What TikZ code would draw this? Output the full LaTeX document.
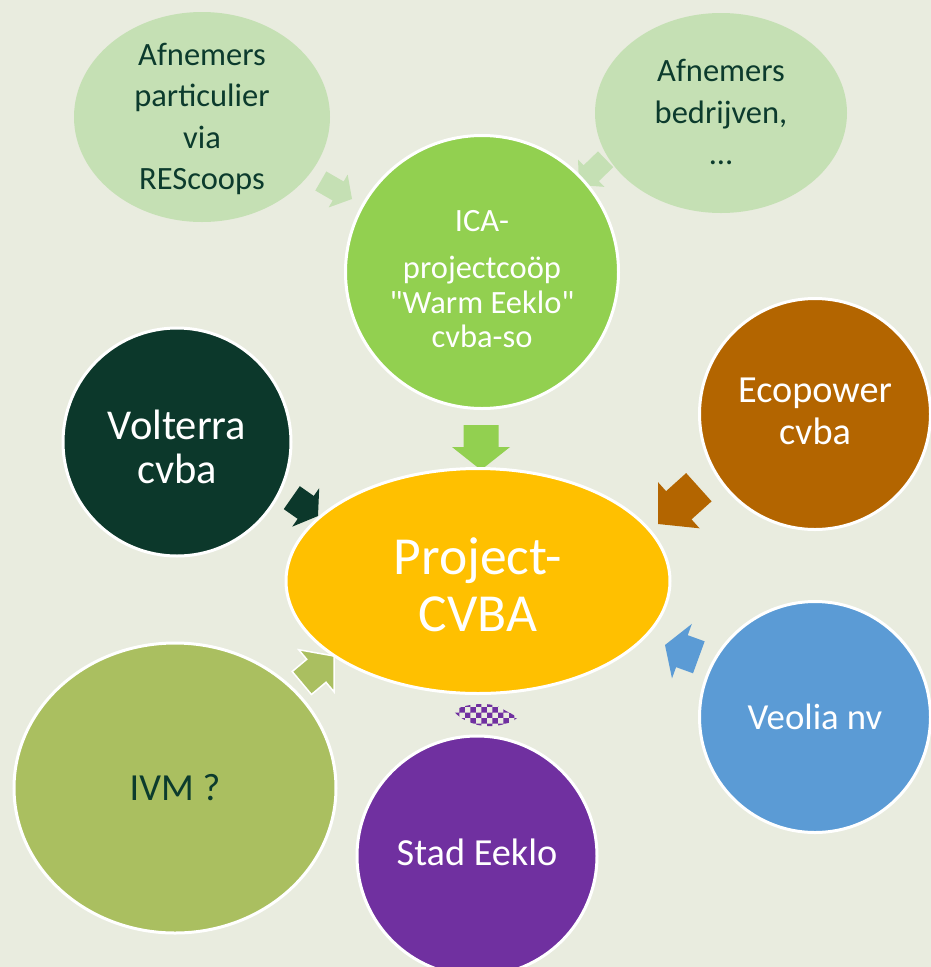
\documentclass[tikz,border=0pt]{standalone}
\usepackage{fontspec}
\setmainfont{Carlito}[Ligatures=TeXOff]
\usetikzlibrary{shapes.geometric,patterns}
\definecolor{bg}{HTML}{E9ECDF}
\definecolor{lightg}{HTML}{C5E0B4}
\definecolor{icag}{HTML}{92D050}
\definecolor{gold}{HTML}{FFC000}
\definecolor{volt}{HTML}{0C382B}
\definecolor{ecop}{HTML}{B36500}
\definecolor{veol}{HTML}{5B9BD5}
\definecolor{ivmg}{HTML}{AABF60}
\definecolor{stad}{HTML}{7030A0}
\definecolor{darktxt}{HTML}{0C3B2D}
% #1 style, #2 tip, #3 angle, #4 length, #5 head length, #6 head width, #7 shaft width
\newcommand\blockarr[7]{%
  \begin{scope}[shift={(#2)}, rotate=#3]
    \path[#1] (0,0) -- (-#5,#6/2) -- (-#5,#7/2) -- (-#4,#7/2) -- (-#4,-#7/2)
      -- (-#5,-#7/2) -- (-#5,-#6/2) -- cycle;
  \end{scope}}
\begin{document}
\begin{tikzpicture}[x=1pt,y=-1pt,
  bubble/.style={draw=white, line width=3pt, inner sep=0pt},
  lightbub/.style={ellipse, fill=lightg, inner sep=0pt},
  txt/.style={align=center, text=white, inner sep=0pt},
  ]
\useasboundingbox (0,0) rectangle (931,967);
\clip (0,0) rectangle (931,967);
\fill[bg] (0,0) rectangle (931,967);

% connector arrows
\coordinate (t1) at (352,199);
\coordinate (t2) at (579,185);
\coordinate (t3) at (481,470);
\coordinate (t4) at (318,516);
\coordinate (t5) at (658,524);
\coordinate (t6) at (665,645);
\coordinate (t7) at (334,656);
\blockarr{fill=lightg}{t1}{-30}{36}{16}{38}{22}
\blockarr{fill=lightg}{t2}{-136}{37}{17}{38}{22}
\blockarr{fill=icag}{t3}{-90}{45}{23}{58}{35}
\blockarr{fill=volt}{t4}{-35}{32}{15}{47}{28}
\blockarr{fill=ecop}{t5}{-138}{55}{28}{62}{38}
\blockarr{fill=veol}{t6}{160}{36}{18}{58}{34}
\begin{scope}[shift={(3,3)}]
\blockarr{fill=black,opacity=0.12}{t7}{40}{42}{23}{55}{30}
\end{scope}
\blockarr{fill=ivmg,draw=white,line width=1.5pt,line join=miter}{t7}{40}{42}{23}{55}{30}

% patterned blob
\path[pattern=checkerboard, pattern color=stad]
  (454,711) .. controls (462,704) and (490,701) .. (501,708)
  .. controls (507,712) and (514,714) .. (517,718)
  .. controls (510,725) and (490,728) .. (478,725)
  .. controls (466,722) and (457,716) .. (454,711) -- cycle;

% shapes
\node[lightbub, minimum width=256pt, minimum height=210pt] (afp) at (202,117) {};
\node[lightbub, minimum width=252pt, minimum height=200pt] (afb) at (721,113) {};
\node[bubble, circle, fill=icag, minimum size=273pt] (ica) at (482,272) {};
\node[bubble, ellipse, fill=gold, minimum width=384pt, minimum height=225pt] (proj) at (478,581) {};
\node[bubble, circle, fill=volt, minimum size=228pt] (volt) at (177,442) {};
\node[bubble, circle, fill=ecop, minimum size=231pt] (ecop) at (815,414) {};
\node[bubble, circle, fill=veol, minimum size=231pt] (veol) at (815,717) {};
\node[bubble, ellipse, fill=ivmg, minimum width=322pt, minimum height=290pt] (ivm) at (175,788) {};
\node[bubble, circle, fill=stad, minimum size=240pt] (stad) at (477,856) {};

% texts
\node[txt, text=darktxt, font=\fontsize{32.5}{41.5}\selectfont] (afp-t) at (202,119)
  {Afnemers\\particulier\\via\\REScoops};
\node[txt, text=darktxt, font=\fontsize{32.5}{41.5}\selectfont] (afb-t) at (721,112)
  {Afnemers\\bedrijven,\\…};
\node[txt, font=\fontsize{32.5}{34.5}\selectfont] (ica-t) at (482,279)
  {ICA-\\[13pt]projectcoöp\\"Warm Eeklo"\\cvba-so};
\node[txt, font=\fontsize{53.5}{57}\selectfont] (proj-t) at (478,585) {Project-\\CVBA};
\node[txt, font=\fontsize{42.5}{44}\selectfont] (volt-t) at (177,447) {Volterra\\cvba};
\node[txt, font=\fontsize{38.3}{42}\selectfont] (ecop-t) at (815,411) {Ecopower\\cvba};
\node[txt, font=\fontsize{36.7}{42}\selectfont] (veol-t) at (815,717) {Veolia nv};
\node[txt, text=darktxt, font=\fontsize{38.3}{42}\selectfont] (ivm-t) at (175,788) {IVM ?};
\node[txt, font=\fontsize{38.3}{42}\selectfont] (stad-t) at (477,852) {Stad Eeklo};
\end{tikzpicture}
\end{document}
